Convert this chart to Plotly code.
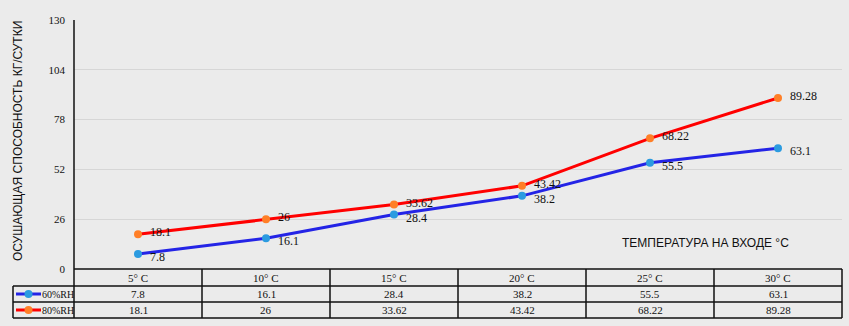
import plotly.graph_objects as go

categories = ["5° C", "10° C", "15° C", "20° C", "25° C", "30° C"]
series_names = ["60%RH", "80%RH"]
rh60 = [7.8, 16.1, 28.4, 38.2, 55.5, 63.1]
rh80 = [18.1, 26, 33.62, 43.42, 68.22, 89.28]
y_ticks = [0, 26, 52, 78, 104, 130]
y_title = "ОСУШАЮЩАЯ СПОСОБНОСТЬ КГ/СУТКИ"
x_title = "ТЕМПЕРАТУРА НА ВХОДЕ °C"

line_colors = ["#2424e6", "#ff0000"]
marker_colors = ["#2b9be0", "#ff7f27"]
values = [rh60, rh80]
label_yshift = [-3, 2]

W, H = 849, 326
L, R, T, B = 74, 7, 20, 57
pw, ph = W - L - R, H - T - B

def px_x(x):  # pixel -> x domain fraction
    return (x - L) / pw

def px_y(y):  # pixel -> paper y fraction
    return (H - B - y) / ph

fig = go.Figure()
annotations = []
for name, vals, lc, mc, ys in zip(series_names, values, line_colors, marker_colors, label_yshift):
    fig.add_trace(go.Scatter(
        x=categories, y=vals, mode="lines+markers", name=name,
        line=dict(color=lc, width=3),
        marker=dict(color=mc, size=8),
        cliponaxis=False, showlegend=False,
    ))
    for c, v in zip(categories, vals):
        annotations.append(dict(x=c, y=v, xref="x", yref="y", text=f"{v:g}",
                                showarrow=False, xanchor="left", yanchor="middle",
                                xshift=10, yshift=ys,
                                font=dict(family="Liberation Serif", size=12, color="#111")))

shapes = []
line_style = dict(color="#111", width=1.5)
row_lines = [269, 286, 302, 318]
shapes.append(dict(type="line", xref="x domain", yref="paper",
                   x0=0, x1=1, y0=px_y(269), y1=px_y(269), line=line_style))
for yy in row_lines[1:]:
    shapes.append(dict(type="line", xref="x domain", yref="paper",
                       x0=px_x(13), x1=1, y0=px_y(yy), y1=px_y(yy), line=line_style))
shapes.append(dict(type="line", xref="x domain", yref="paper",
                   x0=px_x(13), x1=px_x(13), y0=px_y(286), y1=px_y(318), line=line_style))
n = len(categories)
for k in range(n + 1):
    xf = k / n
    shapes.append(dict(type="line", xref="x domain", yref="paper",
                       x0=xf, x1=xf, y0=px_y(269), y1=px_y(318), line=line_style))
shapes.append(dict(type="line", xref="x domain", yref="paper",
                   x0=0, x1=0, y0=0, y1=1, line=dict(color="#111", width=1.5)))

tfont = dict(family="Liberation Serif", size=11, color="#111")
for c in categories:
    annotations.append(dict(x=c, y=px_y(277.5), xref="x", yref="paper", text=c,
                            showarrow=False, font=tfont, xanchor="center", yanchor="middle"))
row_centers = [294, 310]
for r, (name, vals, lc, mc) in enumerate(zip(series_names, values, line_colors, marker_colors)):
    yc = px_y(row_centers[r])
    for c, v in zip(categories, vals):
        annotations.append(dict(x=c, y=yc, xref="x", yref="paper", text=f"{v:g}",
                                showarrow=False, font=tfont, xanchor="center", yanchor="middle"))
    shapes.append(dict(type="line", xref="x domain", yref="paper",
                       x0=px_x(16), x1=px_x(41), y0=yc, y1=yc, line=dict(color=lc, width=3)))
    shapes.append(dict(type="circle", xref="x domain", yref="paper",
                       x0=px_x(24.5), x1=px_x(32.5), y0=px_y(row_centers[r] + 4), y1=px_y(row_centers[r] - 4),
                       fillcolor=mc, line=dict(width=0)))
    annotations.append(dict(x=px_x(58), y=yc, xref="x domain", yref="paper", text=name,
                            showarrow=False, font=dict(family="Liberation Serif", size=10, color="#111"),
                            xanchor="center", yanchor="middle"))

annotations.append(dict(x=px_x(705), y=px_y(243), xref="x domain", yref="paper", text=x_title,
                        showarrow=False, font=dict(family="Liberation Sans", size=12, color="#111"),
                        xanchor="center", yanchor="middle"))
annotations.append(dict(x=px_x(18), y=px_y(141), xref="x domain", yref="paper", text=y_title,
                        showarrow=False, textangle=-90,
                        font=dict(family="Liberation Sans", size=12, color="#111"),
                        xanchor="center", yanchor="middle"))

fig.update_layout(
    width=W, height=H, margin=dict(l=L, r=R, t=T, b=B),
    paper_bgcolor="#ebebeb", plot_bgcolor="#ebebeb",
    shapes=shapes, annotations=annotations,
    xaxis=dict(type="category", range=[-0.5, n - 0.5], showgrid=False, showticklabels=False,
               zeroline=False, showline=False, fixedrange=True),
    yaxis=dict(range=[0, 130], tickvals=y_ticks, ticktext=[str(t) for t in y_ticks],
               showgrid=True, gridcolor="#d6d6d6", gridwidth=1, zeroline=False,
               showline=False, ticks="", ticklabelstandoff=8,
               tickfont=dict(family="Liberation Serif", size=11, color="#111")),
)

fig.write_html("out.html")
